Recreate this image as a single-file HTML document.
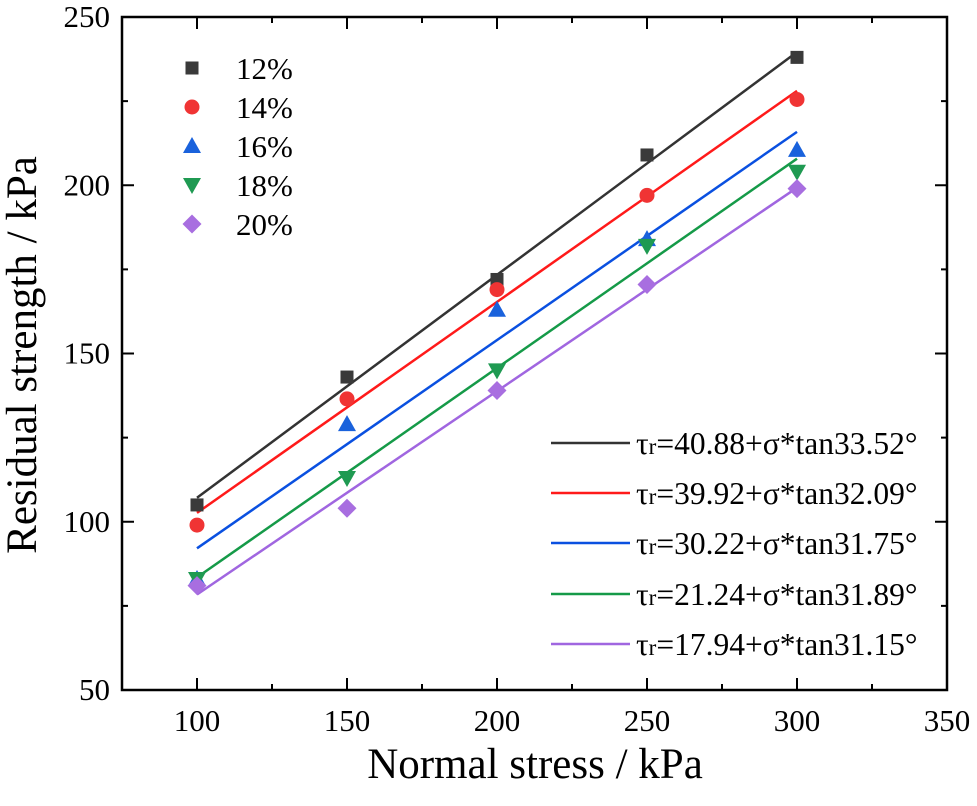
<!DOCTYPE html>
<html><head><meta charset="utf-8"><style>
html,body{margin:0;padding:0;background:#fff}
svg{display:block;font-family:"Liberation Serif",serif}
svg text{font-family:"Liberation Serif",serif}
</style></head><body>
<svg id="chart" width="977" height="806" viewBox="0 0 977 806"></svg>
<script>
const xs = [100,150,200,250,300];
const series12 = [105,143,172,209,238];
const series14 = [99,136.5,169,197,225.5];
const series16 = [83,129,163,184,210.5];
const series18 = [83,113,145,182,204];
const series20 = [81,104,139,170.5,199];
const seriesNames = ['12%','14%','16%','18%','20%'];
const intercepts = [40.88,39.92,30.22,21.24,17.94];
const anglesDeg = [33.52,32.09,31.75,31.89,31.15];
const xTicks = [100,150,200,250,300,350];
const yTicks = [50,100,150,200,250];
const colors = ['#3a3a3a','#f03434','#1a62dc','#1f9a52','#a86ee0'];
const lineColors = ['#333333','#ff1a1a','#0a50e0','#159a48','#a066e0'];
const shapes = ['square','circle','up','down','diamond'];
const allSeries = [series12,series14,series16,series18,series20];

const L=122,R=947,T=17,B=690,X0=75,X1=350,Y0=50,Y1=250;
const sx=v=>L+(v-X0)/(X1-X0)*(R-L);
const sy=v=>B-(v-Y0)/(Y1-Y0)*(B-T);
const NS='http://www.w3.org/2000/svg';
const svg=document.getElementById('chart');
function mk(tag,attrs,parent){const e=document.createElementNS(NS,tag);for(const k in attrs)e.setAttribute(k,attrs[k]);(parent||svg).appendChild(e);return e;}

const frame=mk('rect',{x:L,y:T,width:R-L,height:B-T,fill:'none',stroke:'#000','stroke-width':2.5});



xTicks.forEach((t,i)=>{
  const x=sx(t);
  const a=mk('line',{x1:x,x2:x,y1:B,y2:B-12,stroke:'#000','stroke-width':2});
  
  
  const b=mk('line',{x1:x,x2:x,y1:T,y2:T+12,stroke:'#000','stroke-width':2});
  
  
  const m=sx(t-25);
  if(t-25>X0){
    const c=mk('line',{x1:m,x2:m,y1:B,y2:B-6,stroke:'#000','stroke-width':2});
    
    
    const d=mk('line',{x1:m,x2:m,y1:T,y2:T+6,stroke:'#000','stroke-width':2});
    
    
  }
  const tx=mk('text',{x:x,y:731,'text-anchor':'middle','font-size':31});
  tx.textContent=t;
  
  
});
yTicks.forEach(t=>{
  const y=sy(t);
  const a=mk('line',{x1:L,x2:L+12,y1:y,y2:y,stroke:'#000','stroke-width':2});
  
  
  const b=mk('line',{x1:R,x2:R-12,y1:y,y2:y,stroke:'#000','stroke-width':2});
  
  
  if(t+25<Y1){
    const m=sy(t+25);
    const c=mk('line',{x1:L,x2:L+6,y1:m,y2:m,stroke:'#000','stroke-width':2});
    
    
    const d=mk('line',{x1:R,x2:R-6,y1:m,y2:m,stroke:'#000','stroke-width':2});
    
    
  }
  const tx=mk('text',{x:110,y:y+10,'text-anchor':'end','font-size':31});
  tx.textContent=t;
  
  
});
const xt=mk('text',{x:535,y:778,'text-anchor':'middle','font-size':43});
xt.textContent='Normal stress / kPa';


const yt=mk('text',{x:0,y:0,'text-anchor':'middle','font-size':43,transform:'translate(36,355) rotate(-90)'});
yt.textContent='Residual strength / kPa';



function marker(shape,cx,cy,color,s,parent){
  let e;
  if(shape==='square')e=mk('rect',{x:cx-6.5,y:cy-6.5,width:13,height:13,fill:color},parent);
  else if(shape==='circle')e=mk('circle',{cx:cx,cy:cy,r:7.5,fill:color},parent);
  else if(shape==='up')e=mk('polygon',{points:`${cx},${cy-9} ${cx-9},${cy+7} ${cx+9},${cy+7}`,fill:color},parent);
  else if(shape==='down')e=mk('polygon',{points:`${cx},${cy+9} ${cx-9},${cy-7} ${cx+9},${cy-7}`,fill:color},parent);
  else e=mk('polygon',{points:`${cx},${cy-9.5} ${cx+9.5},${cy} ${cx},${cy+9.5} ${cx-9.5},${cy}`,fill:color},parent);
  return e;
}

intercepts.forEach((c,i)=>{
  const k=Math.tan(anglesDeg[i]*Math.PI/180);
  const xa=xs[0],xb=xs[xs.length-1];
  const ln=mk('line',{x1:sx(xa),y1:sy(c+k*xa),x2:sx(xb),y2:sy(c+k*xb),stroke:lineColors[i],'stroke-width':2.5});
  
  
});
allSeries.forEach((arr,i)=>{
  arr.forEach((v,j)=>{
    const m=marker(shapes[i],sx(xs[j]),sy(v),colors[i]);
    
    
  });
});
const legY=[68,107,146,185,224];
seriesNames.forEach((n,i)=>{
  const m=marker(shapes[i],192,legY[i],colors[i]);
  
  
  const t=mk('text',{x:236,y:legY[i]+11,'font-size':31});
  t.textContent=n;
  
  
});
const eqY=[443,493,543,594,644];
intercepts.forEach((c,i)=>{
  const l=mk('line',{x1:551,x2:630,y1:eqY[i],y2:eqY[i],stroke:lineColors[i],'stroke-width':2.5});
  
  
  const t=mk('text',{x:636,y:eqY[i]+11,'font-size':31.5});
  
  
  const a=mk('tspan',{},t);a.textContent='τ';
  const b=mk('tspan',{'font-size':23},t);b.textContent='r';
  const d=mk('tspan',{},t);d.textContent='='+c.toFixed(2)+'+σ*tan'+anglesDeg[i].toFixed(2)+'°';
});
</script>
</body></html>
